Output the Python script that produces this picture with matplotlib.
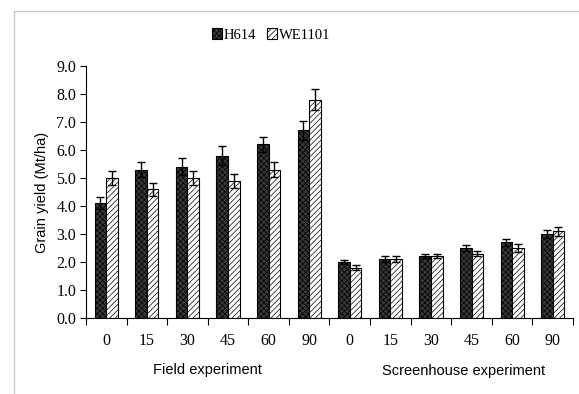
import matplotlib.pyplot as plt
import numpy as np
from matplotlib.patches import Rectangle

# N rates (kg/ha) for each experiment
rates = ['0', '15', '30', '45', '60', '90']
experiments = ['Field experiment', 'Screenhouse experiment']

# grain yield (Mt/ha), field first then screenhouse
h614 = [4.1, 5.3, 5.4, 5.8, 6.2, 6.7, 2.0, 2.1, 2.2, 2.5, 2.7, 3.0]
h614_err = [0.22, 0.28, 0.3, 0.34, 0.28, 0.35, 0.08, 0.1, 0.07, 0.12, 0.12, 0.14]
we1101 = [5.0, 4.6, 5.0, 4.9, 5.3, 7.8, 1.8, 2.1, 2.2, 2.3, 2.5, 3.1]
we1101_err = [0.25, 0.23, 0.25, 0.25, 0.28, 0.37, 0.08, 0.1, 0.07, 0.1, 0.13, 0.16]

serif = 'Liberation Serif'
sans = 'Liberation Sans'
plt.rcParams['hatch.linewidth'] = 0.5

fig = plt.figure(figsize=(5.79, 3.94), dpi=100)
ax = fig.add_axes([0.1485, 0.193, 0.8411, 0.6395])

x = np.arange(len(h614)) + 0.5
w = 0.285
b1 = ax.bar(x - w / 2, h614, w, color='#383838', edgecolor='black', hatch='xxxxxx',
            linewidth=0.8, label='H614')
b2 = ax.bar(x + w / 2, we1101, w, color='white', edgecolor='black', hatch='//////',
            linewidth=0.8, label='WE1101')
ax.errorbar(x - w / 2, h614, yerr=h614_err, fmt='none', ecolor='black',
            elinewidth=1, capsize=3, capthick=1)
ax.errorbar(x + w / 2, we1101, yerr=we1101_err, fmt='none', ecolor='black',
            elinewidth=1, capsize=3, capthick=1)

ax.set_xlim(0, len(h614))
ax.set_ylim(0, 9)
ax.set_yticks(np.arange(0, 9.1, 1))
ax.set_yticklabels([f'{v:.1f}' for v in np.arange(0, 9.1, 1)], fontfamily=serif, fontsize=11.5)
ax.set_xticks(np.arange(0, len(h614) + 1))
ax.set_xticklabels([])
ax.set_xticks(x, minor=True)
ax.set_xticklabels(rates * 2, minor=True, fontfamily=serif, fontsize=11.5)
ax.tick_params(axis='x', which='major', direction='out', length=5, width=0.8)
ax.tick_params(axis='x', which='minor', length=0, pad=11)
ax.tick_params(axis='y', direction='out', length=4, width=0.8, pad=3)
for s in ['top', 'right']:
    ax.spines[s].set_visible(False)
for s in ['left', 'bottom']:
    ax.spines[s].set_linewidth(0.8)

ax.set_ylabel('Grain yield (Mt/ha)', fontfamily=sans, fontsize=10.5, labelpad=5)
ax.text(3, -1.85, experiments[0], ha='center', va='center', fontfamily=sans,
        fontsize=10.5, clip_on=False)
ax.text(9.3, -1.9, experiments[1], ha='center', va='center', fontfamily=sans,
        fontsize=10.5, clip_on=False)

fig.legend(handles=[b1, b2], loc='center', bbox_to_anchor=(0.468, 0.911), ncol=2,
           frameon=False, prop={'family': serif, 'size': 10.5}, handlelength=0.7,
           handleheight=0.7, handletextpad=0.1, columnspacing=0.8)

# light frame around the chart area
fig.patches.append(Rectangle((14 / 579, -0.01), 1.0, 1 - 11 / 394 + 0.01,
                             transform=fig.transFigure, fill=False,
                             edgecolor='#c8c8c8', linewidth=1))

fig.savefig('out.png', dpi=100)
